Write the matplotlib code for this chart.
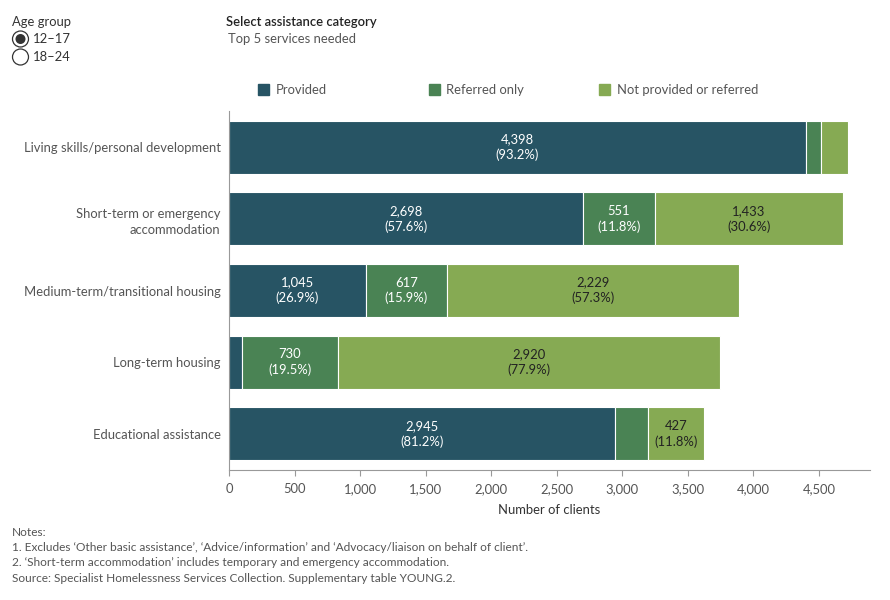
import matplotlib
matplotlib.use("Agg")
import matplotlib.pyplot as plt
from matplotlib.patches import Rectangle, Ellipse

plt.rcParams['font.family'] = ['Lato', 'DejaVu Sans']

categories = ["Living skills/personal development",
              "Short-term or emergency\naccommodation",
              "Medium-term/transitional housing",
              "Long-term housing",
              "Educational assistance"]
provided = [4398, 2698, 1045, 98, 2945]
referred = [118, 551, 617, 730, 255]
not_provided = [203, 1433, 2229, 2920, 427]
provided_pct = [93.2, 57.6, 26.9, 2.6, 81.2]
referred_pct = [2.5, 11.8, 15.9, 19.5, 7.0]
not_pct = [4.3, 30.6, 57.3, 77.9, 11.8]
xticks = [0, 500, 1000, 1500, 2000, 2500, 3000, 3500, 4000, 4500]

c_prov = "#275464"
c_ref = "#4a8354"
c_not = "#86aa53"
grey = "#555555"

W, H = 890, 600
fig = plt.figure(figsize=(W/100, H/100), dpi=100)
ax = fig.add_axes([229/W, 1-469.5/H, (870-229)/W, (469.5-111.5)/H])

ys = list(range(len(categories)))
bh = 0.74
ax.barh(ys, provided, height=bh, color=c_prov, edgecolor="white", linewidth=0.8)
ax.barh(ys, referred, left=provided, height=bh, color=c_ref, edgecolor="white", linewidth=0.8)
left2 = [p + r for p, r in zip(provided, referred)]
ax.barh(ys, not_provided, left=left2, height=bh, color=c_not, edgecolor="white", linewidth=0.8)

fs = 9.4
minw = 400
for i in ys:
    if provided[i] >= minw:
        ax.text(provided[i]/2, i, f"{provided[i]:,}\n({provided_pct[i]:.1f}%)", ha="center", va="center",
                color="white", fontsize=fs, linespacing=1.3)
    if referred[i] >= minw:
        ax.text(provided[i] + referred[i]/2, i, f"{referred[i]:,}\n({referred_pct[i]:.1f}%)", ha="center",
                va="center", color="white", fontsize=fs, linespacing=1.3)
    if not_provided[i] >= minw:
        ax.text(left2[i] + not_provided[i]/2, i, f"{not_provided[i]:,}\n({not_pct[i]:.1f}%)", ha="center",
                va="center", color="#222222", fontsize=fs, linespacing=1.3)

ax.set_ylim(len(categories)-0.5, -0.5)
ax.set_xlim(0, 4890)
ax.set_yticks(ys)
ax.set_yticklabels(categories, fontsize=fs, color=grey, linespacing=1.45)
ax.set_xticks(xticks)
ax.set_xticklabels([f"{v:,}" for v in xticks], fontsize=fs, color=grey)
ax.tick_params(axis="y", length=0, pad=6)
ax.tick_params(axis="x", length=4, color="#999999", pad=6)
for s in ["top", "right"]:
    ax.spines[s].set_visible(False)
for s in ["left", "bottom"]:
    ax.spines[s].set_color("#999999")
    ax.spines[s].set_linewidth(0.8)
ax.set_xlabel("Number of clients", fontsize=fs, color="#333333", labelpad=6)

# Legend
leg = [("Provided", c_prov, 258, 276), ("Referred only", c_ref, 429, 446),
       ("Not provided or referred", c_not, 599, 617)]
for lab, col, sx, tx in leg:
    fig.patches.append(Rectangle((sx/W, 1-95/H), 11/W, 11/H, transform=fig.transFigure,
                                 color=col, figure=fig))
    fig.text(tx/W, 1-89.5/H, lab, fontsize=fs, color=grey, va="center", ha="left")

# Top controls
fig.text(12/W, 1-22/H, "Age group", fontsize=fs, color="#333333", va="center")
fig.text(33/W, 1-39/H, "12–17", fontsize=fs, color="#333333", va="center")
fig.text(33/W, 1-57/H, "18–24", fontsize=fs, color="#333333", va="center")
for yy, filled in [(39, True), (57, False)]:
    fig.patches.append(Ellipse((20.5/W, 1-yy/H), 16/W, 16/H, transform=fig.transFigure, facecolor="white",
                               edgecolor="#333333", linewidth=0.9, figure=fig))
    if filled:
        fig.patches.append(Ellipse((20.5/W, 1-yy/H), 10/W, 10/H, transform=fig.transFigure,
                                   facecolor="#333333", edgecolor="none", figure=fig))
fig.text(226/W, 1-22/H, "Select assistance category", fontsize=fs, color="#222222", va="center",
         fontweight="semibold")
fig.text(228/W, 1-39/H, "Top 5 services needed", fontsize=fs, color=grey, va="center")

notes = ["Notes:",
         "1. Excludes ‘Other basic assistance’, ‘Advice/information’ and ‘Advocacy/liaison on behalf of client’.",
         "2. ‘Short-term accommodation’ includes temporary and emergency accommodation.",
         "Source: Specialist Homelessness Services Collection. Supplementary table YOUNG.2."]
for k, t in enumerate(notes):
    fig.text(12/W, 1-(532 + 15.5*k)/H, t, fontsize=8.6, color=grey, va="center")

fig.savefig("out.png", dpi=100)
